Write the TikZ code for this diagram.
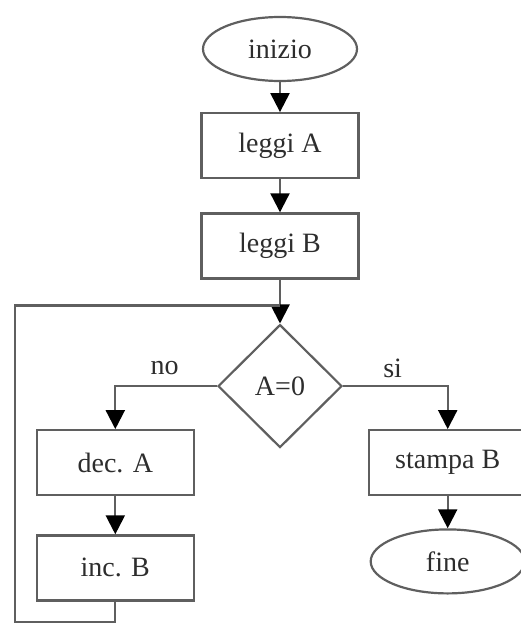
\documentclass[tikz,border=0pt]{standalone}
\usepackage{fontspec}
\setmainfont{Liberation Serif}
\usetikzlibrary{positioning,arrows.meta,shapes.geometric}

\definecolor{lc}{RGB}{95,95,95}
\definecolor{tc}{RGB}{45,45,45}

\begin{document}
\begin{tikzpicture}[x=1pt,y=1pt,node distance=34pt,
		>={Triangle[length=19pt,width=19pt,color=black]},
		txt/.style={text=tc,font=\fontsize{28}{32}\selectfont},
		box/.style={txt,rectangle,draw=lc,line width=2.2pt,minimum width=157pt,minimum height=65pt},
		term/.style={txt,ellipse,draw=lc,line width=2.2pt,minimum width=154pt,minimum height=64pt},
		test/.style={txt,diamond,draw=lc,line width=2.2pt,minimum width=124pt,minimum height=123pt,inner sep=0pt},
		lbl/.style={txt,inner sep=0pt},
		conn/.style={draw=lc,line width=2.2pt}]
		\useasboundingbox (0,0) rectangle (521,-624);
		
		\node (ini)  [term] at (280,-49)        {inizio};
		\node (la)   [box, below=30pt of ini]   {leggi A};
		\node (lb)   [box, below=33pt of la]    {leggi B};
		\node (cond) [test, below=44pt of lb]   {A=0};
		
		\node (deca) [box, below left=43pt and 22pt of cond.west]  {dec. A};
		\node (incb) [box, below=38pt of deca]                     {inc. B};
		\node (stb)  [box, below right=43pt and 25pt of cond.east] {stampa B};
		\node (fine) [term, below=32pt of stb]                     {fine};
		
		\node (no) [lbl, left=38pt of cond.west, yshift=18pt]  {no};
		\node (si) [lbl, right=40pt of cond.east, yshift=18pt] {si};
		
		\node (join) [coordinate, above=18pt of cond.north] {};
		\coordinate (loop) at (15,-622);
		
		\draw [conn,->] (ini) to (la);
		\draw [conn,->] (la) to (lb);
		\draw [conn]    (lb) to (join);
		\draw [conn,->] (join) to (cond);
		
		\draw [conn,->] (cond) -| (deca);
		\draw [conn,->] (cond) -| (stb);
		\draw [conn,->] (deca) to (incb);
		\draw [conn,->] (stb) to (fine);
		
		\draw [conn] (incb) |- (loop) |- (join);
	\end{tikzpicture}
\end{document}
